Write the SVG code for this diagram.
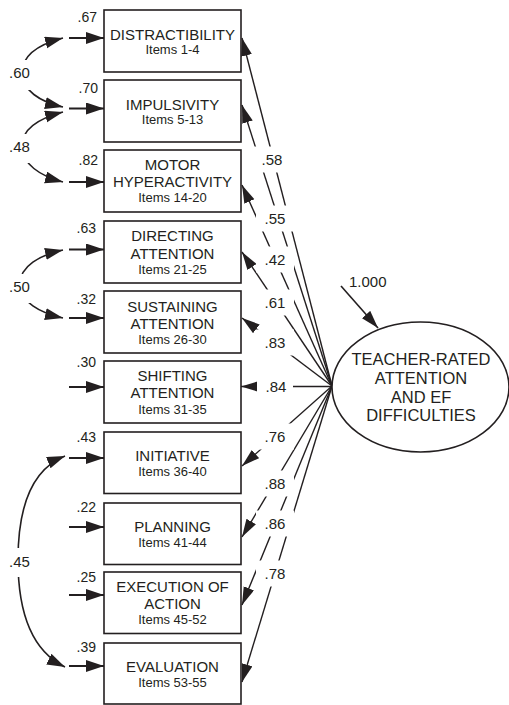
<svg xmlns="http://www.w3.org/2000/svg" width="509" height="705" viewBox="0 0 509 705">
<style>
.box{fill:#fff;stroke:#231f20;stroke-width:1.6}
.t{font-family:"Liberation Sans",Arial,sans-serif;fill:#231f20;text-anchor:middle}
.ti{font-size:15px}
.it{font-size:13px}
.lv{font-size:16.5px}
.el{font-family:"Liberation Sans",Arial,sans-serif;fill:#231f20;font-size:14px;text-anchor:end}
.pl{font-family:"Liberation Sans",Arial,sans-serif;fill:#231f20;font-size:15px;text-anchor:middle}
.err{stroke:#231f20;stroke-width:2;fill:none;marker-end:url(#ah)}
.cov{stroke:#231f20;stroke-width:1.6;fill:none;marker-start:url(#ah);marker-end:url(#ah)}
.path{stroke:#231f20;stroke-width:1.4;fill:none;marker-end:url(#ahs)}
.bg{fill:#fff}
</style>
<defs>
<marker id="ah" markerUnits="userSpaceOnUse" markerWidth="20" markerHeight="14" refX="18" refY="6" orient="auto-start-reverse"><path d="M0,0 L18,6 L0,12 z" fill="#231f20"/></marker>
<marker id="ahs" markerUnits="userSpaceOnUse" markerWidth="20" markerHeight="14" refX="18" refY="5.5" orient="auto"><path d="M0,0 L18,5.5 L0,11 z" fill="#231f20"/></marker>
</defs>
<rect width="509" height="705" fill="#fff"/>

<g id="connectors">
  <line class="err" x1="69" y1="38" x2="104" y2="38"/>
  <line class="err" x1="69" y1="108.5" x2="104" y2="108.5"/>
  <line class="err" x1="69" y1="182" x2="104" y2="182"/>
  <line class="err" x1="69" y1="249.5" x2="104" y2="249.5"/>
  <line class="err" x1="69" y1="318" x2="104" y2="318"/>
  <line class="err" x1="69" y1="387" x2="104" y2="387"/>
  <line class="err" x1="69" y1="458" x2="104" y2="458"/>
  <line class="err" x1="69" y1="527" x2="104" y2="527"/>
  <line class="err" x1="69" y1="595" x2="104" y2="595"/>
  <line class="err" x1="69" y1="666" x2="104" y2="666"/>
  <path class="cov" d="M63,38 C40,44 22,55 22,73 C22,90 40,102 63,107"/>
  <path class="cov" d="M63,112 C40,118 22,128 22,146 C22,164 40,176 63,182"/>
  <path class="cov" d="M63,250 C40,255 20,266 20,284 C20,302 40,313 63,318"/>
  <path class="cov" d="M65,456 C30,470 18,510 18,560 C18,610 30,650 65,667"/>
  <line class="path" x1="332" y1="386" x2="242" y2="38"/>
  <line class="path" x1="332" y1="386" x2="242" y2="105"/>
  <line class="path" x1="332" y1="386" x2="242" y2="185"/>
  <line class="path" x1="332" y1="386" x2="242" y2="252"/>
  <line class="path" x1="332" y1="386" x2="242" y2="318"/>
  <line class="path" x1="332" y1="386.5" x2="241" y2="386.5"/>
  <line class="path" x1="332" y1="386" x2="242" y2="466"/>
  <line class="path" x1="332" y1="386" x2="242" y2="537"/>
  <line class="path" x1="332" y1="386" x2="242" y2="605"/>
  <line class="path" x1="332" y1="386" x2="242" y2="682"/>
  <line class="path" style="stroke-width:1.6" x1="341" y1="286" x2="378" y2="328"/>
</g>

<g id="labels">
  <rect class="bg" x="7" y="60" width="25" height="30"/><text class="pl" x="19.5" y="77.5">.60</text>
  <rect class="bg" x="7" y="134" width="25" height="29"/><text class="pl" x="19.5" y="152">.48</text>
  <rect class="bg" x="7" y="274" width="25" height="29"/><text class="pl" x="19.5" y="291.7">.50</text>
  <rect class="bg" x="7" y="548" width="25" height="29"/><text class="pl" x="19.5" y="566.5">.45</text>

  <text class="el" x="97" y="21.7">.67</text>
  <text class="el" x="98" y="93.3">.70</text>
  <text class="el" x="98" y="165">.82</text>
  <text class="el" x="96" y="232.7">.63</text>
  <text class="el" x="96" y="304.3">.32</text>
  <text class="el" x="96" y="367.3">.30</text>
  <text class="el" x="96" y="441.7">.43</text>
  <text class="el" x="96" y="511.7">.22</text>
  <text class="el" x="96" y="581.7">.25</text>
  <text class="el" x="96" y="651.7">.39</text>

  <rect class="bg" x="253" y="146.5" width="38" height="26"/><text class="pl" x="272" y="165">.58</text>
  <rect class="bg" x="256" y="205.5" width="38" height="26"/><text class="pl" x="275" y="224">.55</text>
  <rect class="bg" x="256" y="246.5" width="38" height="26"/><text class="pl" x="275" y="265">.42</text>
  <rect class="bg" x="256" y="289.5" width="38" height="26"/><text class="pl" x="275" y="308">.61</text>
  <rect class="bg" x="256" y="329.5" width="38" height="26"/><text class="pl" x="275" y="348">.83</text>
  <rect class="bg" x="257" y="374" width="36" height="26"/><text class="pl" x="276" y="392">.84</text>
  <rect class="bg" x="256" y="423.5" width="38" height="26"/><text class="pl" x="275" y="442">.76</text>
  <rect class="bg" x="256" y="470.5" width="38" height="26"/><text class="pl" x="275" y="489">.88</text>
  <rect class="bg" x="256" y="510.5" width="38" height="26"/><text class="pl" x="275" y="529">.86</text>
  <rect class="bg" x="256" y="560.5" width="38" height="26"/><text class="pl" x="275" y="579">.78</text>

  <text class="pl" x="349" y="287" style="text-anchor:start">1.000</text>
</g>

<g id="distractibility">
  <rect class="box" x="104" y="10" width="137" height="62"/>
  <text class="t ti" x="172.5" y="39.5">DISTRACTIBILITY</text>
  <text class="t it" x="172.5" y="54.3">Items 1-4</text>
</g>
<g id="impulsivity">
  <rect class="box" x="104" y="80" width="137" height="62"/>
  <text class="t ti" x="172.5" y="110">IMPULSIVITY</text>
  <text class="t it" x="172.5" y="124">Items 5-13</text>
</g>
<g id="motor-hyperactivity">
  <rect class="box" x="104" y="150" width="137" height="62"/>
  <text class="t ti" x="172.5" y="169.5">MOTOR</text>
  <text class="t ti" x="172.5" y="187.3">HYPERACTIVITY</text>
  <text class="t it" x="172.5" y="202.3">Items 14-20</text>
</g>
<g id="directing-attention">
  <rect class="box" x="104" y="221" width="137" height="62"/>
  <text class="t ti" x="172.5" y="241.3">DIRECTING</text>
  <text class="t ti" x="172.5" y="259">ATTENTION</text>
  <text class="t it" x="172.5" y="274">Items 21-25</text>
</g>
<g id="sustaining-attention">
  <rect class="box" x="104" y="291" width="137" height="62"/>
  <text class="t ti" x="172.5" y="311.5">SUSTAINING</text>
  <text class="t ti" x="172.5" y="329">ATTENTION</text>
  <text class="t it" x="172.5" y="343.5">Items 26-30</text>
</g>
<g id="shifting-attention">
  <rect class="box" x="104" y="361" width="137" height="62"/>
  <text class="t ti" x="172.5" y="380.7">SHIFTING</text>
  <text class="t ti" x="172.5" y="398.3">ATTENTION</text>
  <text class="t it" x="172.5" y="414">Items 31-35</text>
</g>
<g id="initiative">
  <rect class="box" x="104" y="432" width="137" height="61.5"/>
  <text class="t ti" x="172.5" y="461">INITIATIVE</text>
  <text class="t it" x="172.5" y="475.5">Items 36-40</text>
</g>
<g id="planning">
  <rect class="box" x="104" y="503" width="137" height="61.5"/>
  <text class="t ti" x="172.5" y="531.7">PLANNING</text>
  <text class="t it" x="172.5" y="546.7">Items 41-44</text>
</g>
<g id="execution-of-action">
  <rect class="box" x="104" y="572" width="137" height="61.5"/>
  <text class="t ti" x="172.5" y="591.7">EXECUTION OF</text>
  <text class="t ti" x="172.5" y="609.3">ACTION</text>
  <text class="t it" x="172.5" y="624">Items 45-52</text>
</g>
<g id="evaluation">
  <rect class="box" x="104" y="643" width="137" height="61"/>
  <text class="t ti" x="172.5" y="671.7">EVALUATION</text>
  <text class="t it" x="172.5" y="686.7">Items 53-55</text>
</g>
<g id="teacher-rated">
  <ellipse cx="420.5" cy="387" rx="88.5" ry="65" fill="#fff" stroke="#231f20" stroke-width="1.6"/>
  <text class="t lv" x="421" y="364.5">TEACHER-RATED</text>
  <text class="t lv" x="421" y="383.5">ATTENTION</text>
  <text class="t lv" x="421" y="402.5">AND EF</text>
  <text class="t lv" x="421" y="421">DIFFICULTIES</text>
</g>
</svg>
